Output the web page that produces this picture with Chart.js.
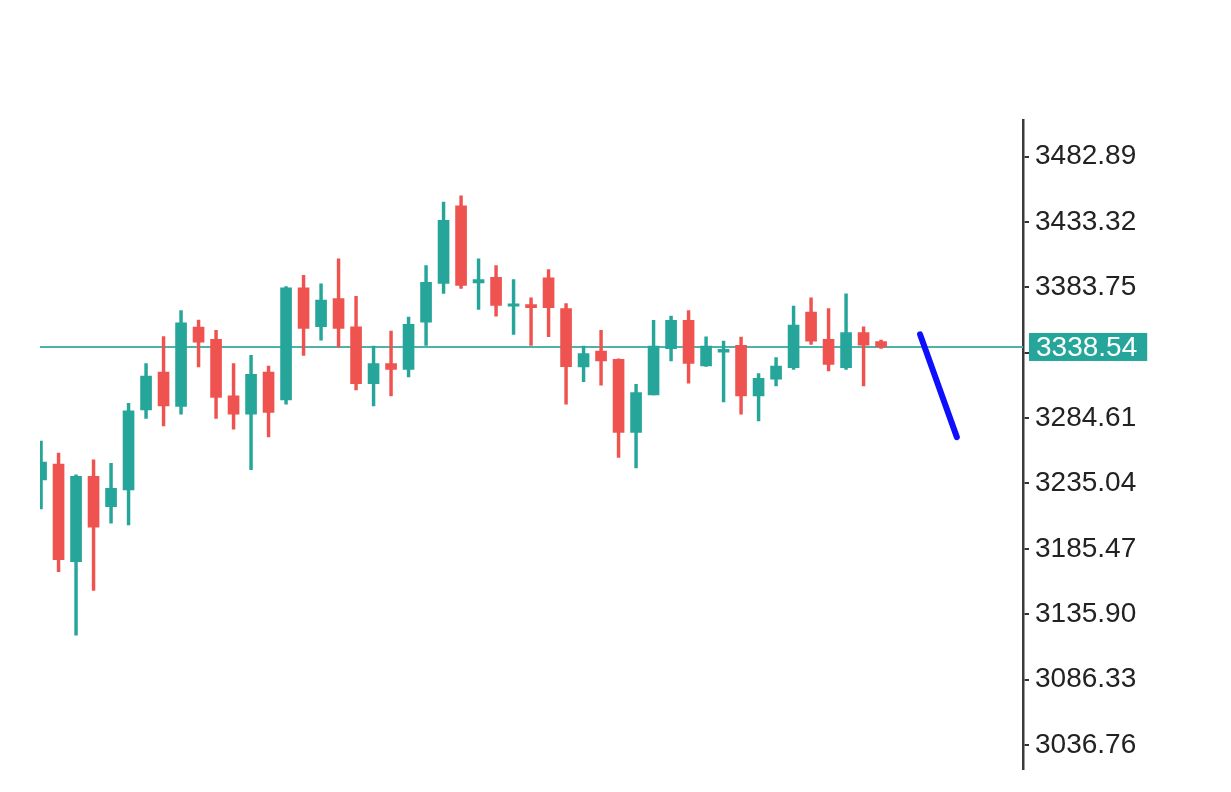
<!DOCTYPE html>
<html>
<head>
<meta charset="utf-8">
<script src="https://cdn.jsdelivr.net/npm/chart.js@4/dist/chart.umd.min.js"></script>
<style>
  html, body { margin: 0; padding: 0; background: #ffffff; }
  #wrap { width: 1231px; height: 792px; }
</style>
</head>
<body>
<div id="wrap"><canvas id="c" width="1231" height="792"></canvas></div>
<script>
// ---- data ----
const opens  = [3237.68,3249.77,3175.67,3240.47,3217.49,3230.12,3290.83,3319.57,3293.40,3353.59,
                3344.29,3301.42,3287.58,3319.57,3298.39,3383.38,3353.89,3375.29,3353.89,3310.79,
                3325.92,3321.61,3357.37,3386.64,3445.62,3387.17,3391.40,3369.47,3370.76,3390.95,
                3367.73,3323.35,3335.44,3329.17,3273.74,3302.18,3337.26,3358.66,3324.10,3334.69,
                3339.76,3301.42,3314.05,3322.89,3364.94,3344.29,3322.89,3349.36,3342.55];
const highs  = [3267.16,3258.09,3241.68,3253.03,3250.30,3295.90,3325.92,3346.33,3366.22,3358.89,
                3351.10,3325.92,3332.19,3324.10,3384.37,3392.91,3386.41,3405.31,3377.03,3339.23,
                3350.57,3361.15,3400.25,3448.41,3453.18,3405.31,3400.25,3389.66,3375.82,3397.22,
                3371.51,3339.23,3351.10,3329.50,3310.27,3358.66,3361.91,3366.22,3346.18,3343.01,
                3346.03,3318.36,3330.45,3369.47,3375.82,3367.73,3378.85,3353.89,3343.76];
const lows   = [3215.75,3168.11,3119.95,3153.97,3204.94,3203.65,3284.33,3278.74,3287.58,3323.35,
                3284.33,3276.24,3245.46,3270.42,3295.14,3332.19,3343.76,3338.47,3305.96,3293.86,
                3301.42,3315.79,3339.76,3379.08,3382.86,3366.98,3361.91,3348.07,3339.76,3346.33,
                3295.14,3312.31,3309.51,3254.84,3246.75,3302.18,3327.88,3311.02,3323.88,3296.88,
                3287.58,3282.51,3308.98,3321.61,3340.51,3320.32,3321.61,3308.98,3337.50];
const closes = [3251.29,3177.19,3240.47,3201.91,3231.40,3290.08,3316.54,3293.86,3356.92,3342.25,
                3300.21,3287.58,3317.83,3288.87,3383.38,3352.61,3374.01,3352.61,3310.79,3325.92,
                3321.61,3355.63,3387.62,3434.50,3385.12,3389.66,3370.00,3371.29,3368.26,3368.26,
                3323.65,3333.48,3327.88,3273.74,3303.99,3339.23,3358.66,3326.15,3339.23,3336.73,
                3301.42,3314.80,3324.10,3355.10,3343.01,3325.39,3349.36,3339.99,3338.54];
const candleIndex = opens.map((_, i) => i);
const tickValues = [3036.76,3086.33,3135.90,3185.47,3235.04,3284.61,3334.18,3383.75,3433.32,3482.89];
const currentPrice = 3338.54;
const forecastX = [50.23, 52.33];
const forecastY = [3348.07, 3270.19];

// ---- styling ----
const UP = '#26a69a';
const DOWN = '#ef5350';
const colorOf = i => closes[i] >= opens[i] ? UP : DOWN;
const X_MIN = -0.06, X_MAX = 56.11;
const Y_MIN = 3018.39, Y_MAX = 3510.64;
const FONT = '"Liberation Sans"';
const FONT_SIZE = 28;

const priceLabelPlugin = {
  id: 'priceLabel',
  afterDraw(chart) {
    const { ctx, chartArea } = chart;
    const ys = chart.scales.y;
    const y = ys.getPixelForValue(currentPrice);
    const txt = currentPrice.toFixed(2);
    ctx.save();
    ctx.font = FONT_SIZE + 'px ' + FONT;
    const w = ctx.measureText(txt).width;
    const x0 = chartArea.right + 6;
    ctx.fillStyle = UP;
    ctx.fillRect(x0, y - 14, w + 17, 28);
    ctx.fillStyle = '#ffffff';
    ctx.textBaseline = 'middle';
    ctx.textAlign = 'left';
    ctx.fillText(txt, x0 + 7, y + 1);
    ctx.restore();
  }
};

new Chart(document.getElementById('c'), {
  type: 'bar',
  data: {
    datasets: [
      {
        type: 'bar',
        label: 'body',
        order: 1,
        grouped: false,
        data: candleIndex.map(i => ({ x: i, y: [opens[i], closes[i]] })),
        backgroundColor: candleIndex.map(colorOf),
        borderWidth: 0,
        barThickness: 11,
        minBarLength: 2
      },
      {
        type: 'bar',
        label: 'wick',
        order: 2,
        grouped: false,
        data: candleIndex.map(i => ({ x: i, y: [lows[i], highs[i]] })),
        backgroundColor: candleIndex.map(colorOf),
        borderWidth: 0,
        barThickness: 2.8
      },
      {
        type: 'line',
        label: 'price',
        order: 3,
        data: [{ x: X_MIN, y: currentPrice }, { x: X_MAX, y: currentPrice }],
        borderColor: '#4db3a9',
        borderWidth: 2,
        pointRadius: 0
      },
      {
        type: 'line',
        label: 'forecast',
        order: 0,
        data: forecastX.map((x, i) => ({ x: x, y: forecastY[i] })),
        borderColor: '#0f0fff',
        borderWidth: 6,
        borderCapStyle: 'round',
        pointRadius: 0
      }
    ]
  },
  options: {
    responsive: false,
    animation: false,
    events: [],
    layout: { padding: { left: 40, top: 120, bottom: 21, right: 0 } },
    plugins: { legend: { display: false }, tooltip: { enabled: false } },
    scales: {
      x: {
        type: 'linear',
        display: false,
        offset: false,
        min: X_MIN,
        max: X_MAX,
        grid: { display: false, offset: false }
      },
      y: {
        position: 'right',
        min: Y_MIN,
        max: Y_MAX,
        afterBuildTicks: s => { s.ticks = tickValues.map(v => ({ value: v })); },
        afterFit: s => { s.width = 208; },
        ticks: {
          autoSkip: false,
          padding: 6,
          color: '#222222',
          font: { family: 'Liberation Sans', size: FONT_SIZE },
          callback: v => Number(v).toFixed(2)
        },
        grid: { drawOnChartArea: false, drawTicks: true, tickLength: 6, color: '#333333', lineWidth: 2 },
        border: { display: true, color: '#3a3a3a', width: 2.5 }
      }
    }
  },
  plugins: [priceLabelPlugin]
});
</script>
</body>
</html>
